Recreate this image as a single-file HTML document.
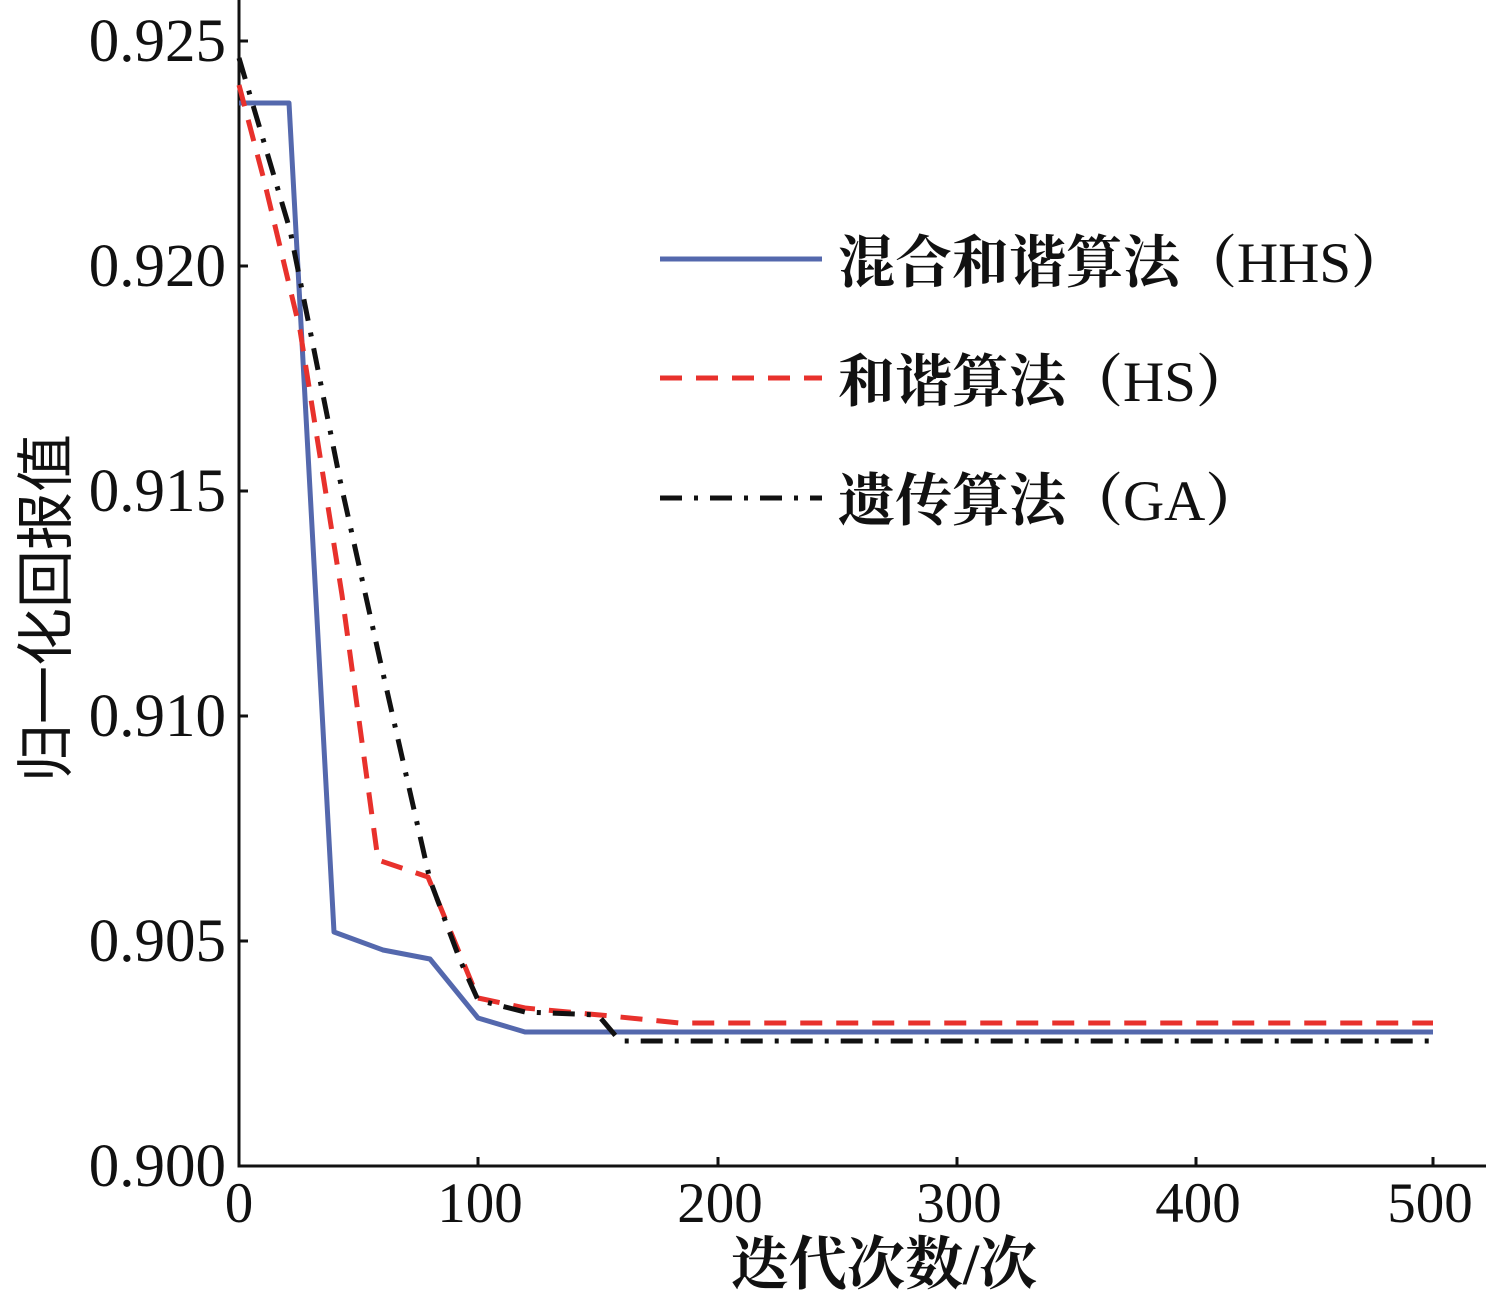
<!DOCTYPE html>
<html><head><meta charset="utf-8"><style>body{margin:0;background:#fff}</style></head><body>
<svg width="1486" height="1296" xmlns="http://www.w3.org/2000/svg" style="display:block">
<g font-family="Liberation Serif, serif" font-size="61" fill="#111">
<text x="226" y="61" text-anchor="end">0.925</text>
<text x="226" y="286" text-anchor="end">0.920</text>
<text x="226" y="511" text-anchor="end">0.915</text>
<text x="226" y="736" text-anchor="end">0.910</text>
<text x="226" y="961" text-anchor="end">0.905</text>
<text x="226" y="1186" text-anchor="end">0.900</text>
</g>
<g font-family="Liberation Serif, serif" font-size="57" fill="#111">
<text x="239" y="1222" text-anchor="middle">0</text>
<text x="480" y="1222" text-anchor="middle">100</text>
<text x="720" y="1222" text-anchor="middle">200</text>
<text x="959" y="1222" text-anchor="middle">300</text>
<text x="1198" y="1222" text-anchor="middle">400</text>
<text x="1430" y="1222" text-anchor="middle">500</text>
</g>
<g font-family="Liberation Serif, 'Noto Serif CJK SC', serif" font-size="57" fill="#111" font-weight="bold">
<text x="884" y="1284" text-anchor="middle" font-size="58">迭代次数/次</text>
<text x="838" y="282">混合和谐算法（<tspan font-weight="normal">HHS</tspan>）</text>
<text x="838" y="401">和谐算法（<tspan font-weight="normal">HS</tspan>）</text>
<text x="838" y="520">遗传算法（<tspan font-weight="normal">GA</tspan>）</text>
</g>
<text transform="translate(66,608) rotate(-90)" text-anchor="middle" font-family="'Noto Sans CJK SC', sans-serif" font-size="58" fill="#111">归一化回报值</text>
<g stroke="#111" stroke-width="3" fill="none">
<path d="M239,0V1166H1486"/>
<path d="M239,41h9M239,266h9M239,491h9M239,716h9M239,941h9"/>
<path d="M478,1166v-9M718,1166v-9M957,1166v-9M1196,1166v-9M1433,1166v-9"/>
</g>
<g fill="none" stroke-width="5" stroke-linejoin="round">
<polyline stroke="#5468ad" points="239,103 289,103 334,932 383,950 430,959 478,1018 525,1032 1433,1032"/>
<polyline stroke="#e8312c" stroke-dasharray="22,14" points="239,85 264,180 300,330 342,595 378,860 428,877 478,998 525,1008 600,1015 680,1023 1433,1023"/>
<polyline stroke="#111" stroke-dasharray="22,12,4,12" points="239,58 290,230 340,480 380,660 430,880 460,960 478,1000 525,1012 598,1015 620,1041 1430,1041"/>
<line x1="660" y1="259" x2="822" y2="259" stroke="#5468ad"/>
<line x1="660" y1="378" x2="822" y2="378" stroke="#e8312c" stroke-dasharray="22,14"/>
<line x1="660" y1="498" x2="822" y2="498" stroke="#111" stroke-dasharray="22,12,4,12"/>
</g>
</svg>
</body></html>
